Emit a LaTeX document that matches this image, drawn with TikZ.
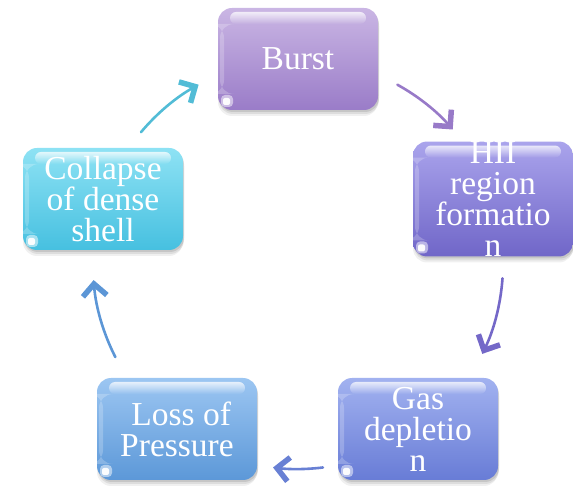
\documentclass[tikz,border=0pt]{standalone}
\usepackage{fontspec}
\setmainfont{Liberation Serif}
\usetikzlibrary{arrows.meta,fadings}
\definecolor{bTop}{RGB}{202,182,228}\definecolor{bBot}{RGB}{154,124,200}
\definecolor{hTop}{RGB}{170,164,236}\definecolor{hBot}{RGB}{112,102,200}
\definecolor{gTop}{RGB}{162,178,240}\definecolor{gBot}{RGB}{104,124,214}
\definecolor{lTop}{RGB}{156,198,242}\definecolor{lBot}{RGB}{92,152,216}
\definecolor{cTop}{RGB}{142,226,244}\definecolor{cBot}{RGB}{70,192,224}
\definecolor{a1}{RGB}{152,122,200}\definecolor{a2}{RGB}{116,104,200}
\definecolor{a3}{RGB}{104,128,212}\definecolor{a4}{RGB}{92,150,214}
\definecolor{a5}{RGB}{82,188,214}
\tikzfading[name=hlfade, top color=transparent!0, bottom color=transparent!100]
\tikzset{
  gbox/.style 2 args={rounded corners=14pt, minimum width=160pt, minimum height=102pt,
    inner sep=0pt, text=white, align=center, font=\fontsize{33.5}{31}\selectfont,
    top color=#1, bottom color=#2,
    preaction={fill=black, fill opacity=0.06, transform canvas={yshift=-6pt}},
    preaction={fill=black, fill opacity=0.08, transform canvas={yshift=-4pt, xshift=1pt}},
    preaction={fill=black, fill opacity=0.10, transform canvas={yshift=-2pt, xshift=1pt}},
    path picture={
      \fill[white, fill opacity=0.22]
        ([xshift=2pt,yshift=16pt]path picture bounding box.south west)
        rectangle ([xshift=6pt,yshift=-16pt]path picture bounding box.north west);
      \fill[white, fill opacity=0.75, path fading=hlfade, rounded corners=6pt]
        ([xshift=12pt,yshift=-4pt]path picture bounding box.north west)
        rectangle ([xshift=-12pt,yshift=-16pt]path picture bounding box.north east);
      \fill[white, fill opacity=0.5, rounded corners=4pt]
        ([xshift=3pt,yshift=3pt]path picture bounding box.south west)
        rectangle ([xshift=15pt,yshift=15pt]path picture bounding box.south west);
      \fill[white, fill opacity=0.95, rounded corners=2pt]
        ([xshift=5pt,yshift=5pt]path picture bounding box.south west)
        rectangle ([xshift=12pt,yshift=12pt]path picture bounding box.south west);
    }},
  arr/.style={line width=2.6pt, line cap=round,
    -{Straight Barb[length=12pt,width=24pt,line width=5.5pt]}}
}
\begin{document}
\begin{tikzpicture}[x=1pt,y=1pt]
\useasboundingbox (0,0) rectangle (573,490);
\node[gbox={bTop}{bBot}] (burst) at (298,431) {Burst};
\node[gbox={hTop}{hBot}] (hii) at (493,291) {HII\\region\\formatio\\n};
\node[gbox={gTop}{gBot}] (gas) at (418,61) {Gas\\depletio\\n};
\node[gbox={lTop}{lBot}] (loss) at (177,61) {\ Loss of\\Pressure};
\node[gbox={cTop}{cBot}] (collapse) at (103,291) {Collapse\\of dense\\shell};
\coordinate (cen) at (298,226);
\draw[arr, a1] ([shift={(61:205pt)}]cen) arc[start angle=61, end angle=41, radius=205pt];
\draw[arr, a2] ([shift={(-4:205pt)}]cen) arc[start angle=-4, end angle=-26, radius=205pt];
\draw[arr, a3] ([shift={(-83:205pt)}]cen) arc[start angle=-83, end angle=-97, radius=205pt];
\draw[arr, a4] ([shift={(207:205pt)}]cen) arc[start angle=207, end angle=184.5, radius=205pt];
\draw[arr, a5] ([shift={(140:205pt)}]cen) arc[start angle=140, end angle=119, radius=205pt];
\end{tikzpicture}
\end{document}
